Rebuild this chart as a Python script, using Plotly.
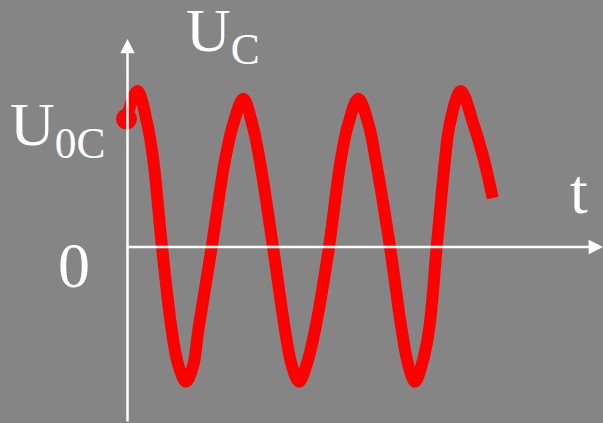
import plotly.graph_objects as go

# Time (arbitrary units, origin at vertical axis) and capacitor voltage (arbitrary units)
t_vals = [-1, 9.8, 20.0, 25.8, 34.5, 44.2, 50.8, 58.5, 65.8, 70.8, 84.2, 97.5, 105.5,
          115.8, 125.0, 132.2, 145.5, 157.5, 164.2, 171.5, 179.0, 187.5, 201.5, 213.2, 220.5,
          230.8, 241.2, 248.2, 262.5, 274.2, 280.8, 287.5, 294.2, 301.5, 309.2, 317.5, 322.1,
          333.2, 346.2, 356.5, 365.2]
u_vals = [128, 156, 122, 87, 0, -83, -118, -134.7, -118, -83, 0, 87, 122,
          148.3, 122, 87, 0, -83, -118, -134.7, -118, -83, 0, 87, 122,
          148.3, 122, 87, 0, -83, -118, -134.7, -118, -83, 0, 87, 122,
          156, 122, 87, 49]
u0c = [128]
t0 = [-1]

BG = "#858585"
RED = "#FF0000"
WHITE = "#FFFFFF"
FONT = "Liberation Serif"

fig = go.Figure()
fig.add_trace(go.Scatter(x=t0, y=u0c, mode="markers",
                         marker=dict(color=RED, size=21, line=dict(width=0)),
                         hoverinfo="skip", showlegend=False))
fig.add_trace(go.Scatter(x=t_vals, y=u_vals, mode="lines",
                         line=dict(color=RED, width=12, shape="spline", smoothing=1.0),
                         hoverinfo="skip", showlegend=False))

annotations = [
    # vertical axis with arrow
    dict(x=0, y=208, ax=0, ay=-176, xref="x", yref="y", axref="x", ayref="y",
         showarrow=True, arrowhead=2, arrowsize=1.15, arrowwidth=2.5, arrowcolor=WHITE, text=""),
    # horizontal axis with arrow
    dict(x=475.5, y=0, ax=-2.5, ay=0, xref="x", yref="y", axref="x", ayref="y",
         showarrow=True, arrowhead=2, arrowsize=1.15, arrowwidth=2.5, arrowcolor=WHITE, text=""),
    dict(x=184 / 603, y=1 + 6 / 423, xref="paper", yref="paper", xanchor="left", yanchor="top",
         text="U<sub>C</sub>", showarrow=False, font=dict(family=FONT, size=62, color=WHITE)),
    dict(x=8 / 603, y=1 - 88 / 423, xref="paper", yref="paper", xanchor="left", yanchor="top",
         text="U<sub>0C</sub>", showarrow=False, font=dict(family=FONT, size=62, color=WHITE)),
    dict(x=56 / 603, y=1 - 228 / 423, xref="paper", yref="paper", xanchor="left", yanchor="top",
         text="0", showarrow=False, font=dict(family=FONT, size=64, color=WHITE)),
    dict(x=568 / 603, y=1 - 154 / 423, xref="paper", yref="paper", xanchor="left", yanchor="top",
         text="t", showarrow=False, font=dict(family=FONT, size=64, color=WHITE)),
]

fig.update_layout(
    width=603, height=423,
    margin=dict(l=0, r=0, t=0, b=0),
    paper_bgcolor=BG, plot_bgcolor=BG,
    xaxis=dict(visible=False, range=[-127.5, 475.5], fixedrange=True),
    yaxis=dict(visible=False, range=[-176, 247], fixedrange=True),
    annotations=annotations,
    showlegend=False,
)

fig.write_html("out.html", config={"displayModeBar": False},
               post_script="document.body.style.margin='0';document.body.style.background='#858585';")
